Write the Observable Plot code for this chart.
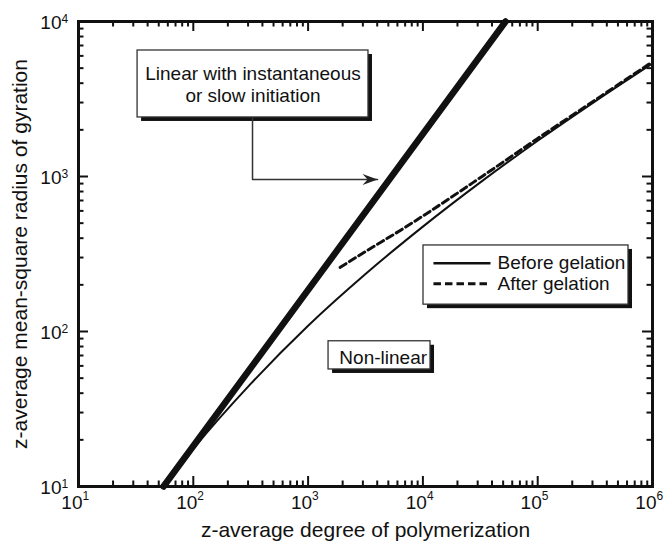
<!DOCTYPE html>
<html><head><meta charset="utf-8">
<script src="https://cdn.jsdelivr.net/npm/d3@7"></script>
<script src="https://cdn.jsdelivr.net/npm/@observablehq/plot@0.6"></script>
<style>html,body{margin:0;padding:0;background:#fff;} #chart{width:668px;height:542px;}</style>
</head><body><div id="chart"></div>
<script>
// ---- data ----
const tickExponentsX = [1, 2, 3, 4, 5, 6];
const tickExponentsY = [1, 2, 3, 4];
const xTitle = "z-average degree of polymerization";
const yTitle = "z-average mean-square radius of gyration";

// Linear (instantaneous or slow initiation)
const linearN  = [55, 52500];
const linearRg = [10, 10000];
// Non-linear, before gelation
const beforeN  = [55, 100, 316, 1000, 3162, 10000, 31623, 100000, 316228, 1000000];
const beforeRg = [10, 17.5, 45.9, 109, 235, 475, 916, 1700, 3055, 5370];
// Non-linear, after gelation
const afterN   = [1900, 3160, 6700, 10000, 33300, 100000, 316000, 1000000];
const afterRg  = [259, 328, 460, 556, 1009, 1760, 3110, 5500];

const legendLabels = ["Before gelation", "After gelation"];
const annotLinear = "Linear with instantaneous\nor slow initiation";
const annotNonLinear = "Non-linear";

// ---- annotation placement (data coordinates) ----
const boxLinear    = {x1: 32.7, x2: 3357, y1: 2404, y2: 6500, tx: 331, ty: 3970};
const boxNonLinear = {x1: 1507, x2: 11650, y1: 56.9, y2: 86.5, tx: 4510, ty: 67.9};
const boxLegend    = {x1: 10120, x2: 618000, y1: 149, y2: 359};
const legendRowY   = [276, 203];
const legendLineX  = [12360, 38800];
const legendTextX  = 44700;
const arrowPath    = [{x: 328, y: 2404}, {x: 328, y: 957}, {x: 4030, y: 957}];

// ---- derived ----
const toPts = (N, R) => N.map((n, i) => ({n, r: R[i]}));
const linear = toPts(linearN, linearRg);
const before = toPts(beforeN, beforeRg);
const after = toPts(afterN, afterRg);
const majorX = tickExponentsX.map(e => 10 ** e);
const majorY = tickExponentsY.map(e => 10 ** e);
const minorOf = (exps) => exps.slice(0, -1).flatMap(e => d3.range(2, 10).map(k => k * 10 ** e));
const minorX = minorOf(tickExponentsX);
const minorY = minorOf(tickExponentsY);

const W = 668, H = 542, mL = 78, mR = 16, mT = 21, mB = 56;
const innerW = W - mL - mR, innerH = H - mT - mB;
const FONT = "Liberation Sans, Arial, Helvetica, sans-serif";
const INK = "#111";

const stealth = {
  draw(ctx) {
    ctx.moveTo(0, 0); ctx.lineTo(-15, -5.5); ctx.lineTo(-10, 0); ctx.lineTo(-15, 5.5); ctx.closePath();
  }
};

const shadowBox = (b) => [
  Plot.rect([b], {x1: "x1", x2: "x2", y1: "y1", y2: "y2", fill: INK, dx: 4, dy: 4}),
  Plot.rect([b], {x1: "x1", x2: "x2", y1: "y1", y2: "y2", fill: "white", stroke: "#333", strokeWidth: 1.3})
];

const chart = Plot.plot({
  width: W, height: H,
  marginLeft: mL, marginRight: mR, marginTop: mT, marginBottom: mB,
  x: {type: "log", domain: [10, 1e6], axis: null},
  y: {type: "log", domain: [10, 1e4], axis: null},
  style: {fontFamily: FONT, background: "white", color: INK},
  marks: [
    // curves
    Plot.line(before, {x: "n", y: "r", stroke: INK, strokeWidth: 2, curve: "monotone-x"}),
    Plot.line(after, {x: "n", y: "r", stroke: INK, strokeWidth: 3, strokeDasharray: "7,4", curve: "monotone-x"}),
    Plot.line(linear, {x: "n", y: "r", stroke: INK, strokeWidth: 6.5}),

    // annotation: linear
    ...shadowBox(boxLinear),
    Plot.text([boxLinear], {x: "tx", y: "ty", text: () => annotLinear, fontSize: 19, lineHeight: 1.15, lineAnchor: "middle", textAnchor: "middle", fill: INK}),
    Plot.line(arrowPath, {x: "x", y: "y", stroke: "#333", strokeWidth: 1.5}),
    Plot.dot([arrowPath[2]], {x: "x", y: "y", symbol: stealth, fill: "#222", stroke: null}),

    // annotation: non-linear
    ...shadowBox(boxNonLinear),
    Plot.text([boxNonLinear], {x: "tx", y: "ty", text: () => annotNonLinear, fontSize: 19, lineAnchor: "middle", textAnchor: "middle", fill: INK}),

    // legend
    ...shadowBox(boxLegend),
    Plot.link([legendRowY[0]], {x1: () => legendLineX[0], x2: () => legendLineX[1], y1: d => d, y2: d => d, stroke: INK, strokeWidth: 2.5}),
    Plot.link([legendRowY[1]], {x1: () => legendLineX[0], x2: () => legendLineX[1], y1: d => d, y2: d => d, stroke: INK, strokeWidth: 3, strokeDasharray: "7.5,4"}),
    Plot.text(legendRowY, {x: () => legendTextX, y: d => d, text: (d, i) => legendLabels[i], fontSize: 19, textAnchor: "start", lineAnchor: "middle", fill: INK}),

    // frame and inward ticks on all four sides
    Plot.frame({stroke: INK, strokeWidth: 3}),
    Plot.tickX(majorX, {x: d => d, insetTop: innerH - 10, stroke: INK, strokeWidth: 2}),
    Plot.tickX(majorX, {x: d => d, insetBottom: innerH - 10, stroke: INK, strokeWidth: 2}),
    Plot.tickX(minorX, {x: d => d, insetTop: innerH - 5.5, stroke: INK, strokeWidth: 2}),
    Plot.tickX(minorX, {x: d => d, insetBottom: innerH - 5.5, stroke: INK, strokeWidth: 2}),
    Plot.tickY(majorY, {y: d => d, insetRight: innerW - 10, stroke: INK, strokeWidth: 2}),
    Plot.tickY(majorY, {y: d => d, insetLeft: innerW - 10, stroke: INK, strokeWidth: 2}),
    Plot.tickY(minorY, {y: d => d, insetRight: innerW - 5.5, stroke: INK, strokeWidth: 2}),
    Plot.tickY(minorY, {y: d => d, insetLeft: innerW - 5.5, stroke: INK, strokeWidth: 2}),

    // tick labels 10^n
    Plot.text(tickExponentsX, {x: d => 10 ** d, text: () => "10", frameAnchor: "bottom", lineAnchor: "top", dy: 9, dx: 4, textAnchor: "end", fontSize: 19, fill: INK}),
    Plot.text(tickExponentsX, {x: d => 10 ** d, text: d => String(d), frameAnchor: "bottom", lineAnchor: "top", dy: 5, dx: 4, textAnchor: "start", fontSize: 12, fill: INK}),
    Plot.text(tickExponentsY, {y: d => 10 ** d, text: () => "10", frameAnchor: "left", lineAnchor: "middle", dx: -17, dy: 1, textAnchor: "end", fontSize: 19, fill: INK}),
    Plot.text(tickExponentsY, {y: d => 10 ** d, text: d => String(d), frameAnchor: "left", lineAnchor: "bottom", dx: -17, dy: 1, textAnchor: "start", fontSize: 12, fill: INK}),

    // axis titles
    Plot.text([xTitle], {text: d => d, frameAnchor: "bottom", lineAnchor: "bottom", dy: 50, textAnchor: "middle", fontSize: 21, fill: INK}),
    Plot.text([yTitle], {text: d => d, frameAnchor: "left", rotate: -90, lineAnchor: "middle", dx: -58, textAnchor: "middle", fontSize: 21, fill: INK})
  ]
});
document.getElementById("chart").appendChild(chart);
</script></body></html>
